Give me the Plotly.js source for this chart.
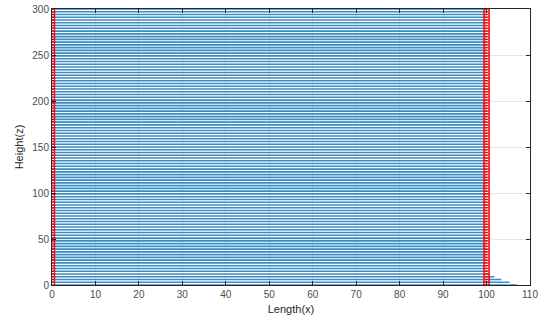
<!DOCTYPE html>
<html>
<head>
<meta charset="utf-8">
<script src="https://cdn.plot.ly/plotly-3.0.1.min.js"></script>
<style>html,body{margin:0;padding:0;background:#fff;}#chart{width:542px;height:324px;}</style>
</head>
<body>
<div id="chart"></div>
<script>
// Heights (z) of each horizontal member
const heights = [0,3,6,9,12,15,18,21,24,27,30,33,36,39,42,45,48,51,54,57,60,63,66,69,72,75,78,81,84,87,90,93,96,99,
  102,105,108,111,114,117,120,123,126,129,132,135,138,141,144,147,150,153,156,159,162,165,168,171,174,177,180,183,186,189,
  192,195,198,201,204,207,210,213,216,219,222,225,228,231,234,237,240,243,246,249,252,255,258,261,264,267,270,273,276,279,
  282,285,288,291,294,297,300];
// Length (x) reached by each member
const lengths = [107,105.3,103.4,101.8,100.6,100,100,100,100,100,100,100,100,100,100,100,100,100,100,100,100,100,100,100,100,100,100,100,100,100,100,100,100,100,
  100,100,100,100,100,100,100,100,100,100,100,100,100,100,100,100,100,100,100,100,100,100,100,100,100,100,100,100,100,100,
  100,100,100,100,100,100,100,100,100,100,100,100,100,100,100,100,100,100,100,100,100,100,100,100,100,100,100,100,100,100,
  100,100,100,100,100,100,100];
// Node positions (x) where markers sit
const nodeX = [0, 100];
const xTicks = [0,10,20,30,40,50,60,70,80,90,100,110];
const yTicks = [0,50,100,150,200,250,300];

const lx = [], ly = [];
heights.forEach((z, i) => { lx.push(0, lengths[i], null); ly.push(z, z, null); });
const mx = [], my = [];
nodeX.forEach(x => heights.forEach(z => { mx.push(x); my.push(z); }));

const data = [
  {type:'scatter', mode:'lines', x:lx, y:ly, line:{color:'#3a8cc4', width:1.6}, hoverinfo:'skip', showlegend:false},
  {type:'scatter', mode:'markers', x:mx, y:my, marker:{symbol:'circle-open', color:'#FF0000', size:6, line:{width:1, color:'#FF0000'}}, showlegend:false}
];
const axisCommon = {
  showline:true, linecolor:'#262626', linewidth:1, mirror:'ticks',
  ticks:'inside', ticklen:4, tickcolor:'#262626',
  showgrid:true, gridcolor:'#e6e6e6', gridwidth:1, zeroline:false,
  tickfont:{family:'Liberation Sans, Arial, sans-serif', size:10, color:'#4d4d4d'}
};
const layout = {
  width:542, height:324,
  margin:{l:52, r:12, t:9, b:39},
  paper_bgcolor:'#fff', plot_bgcolor:'#fff',
  font:{family:'Liberation Sans, Arial, sans-serif'},
  xaxis:Object.assign({}, axisCommon, {range:[0,110], tickvals:xTicks, ticktext:xTicks.map(String),
    title:{text:'Length(x)', font:{size:11, color:'#262626'}, standoff:6}}),
  yaxis:Object.assign({}, axisCommon, {range:[0,300], tickvals:yTicks, ticktext:yTicks.map(String),
    title:{text:'Height(z)', font:{size:11, color:'#262626'}, standoff:6}})
};
Plotly.newPlot('chart', data, layout, {displayModeBar:false, staticPlot:true});
</script>
</body>
</html>
